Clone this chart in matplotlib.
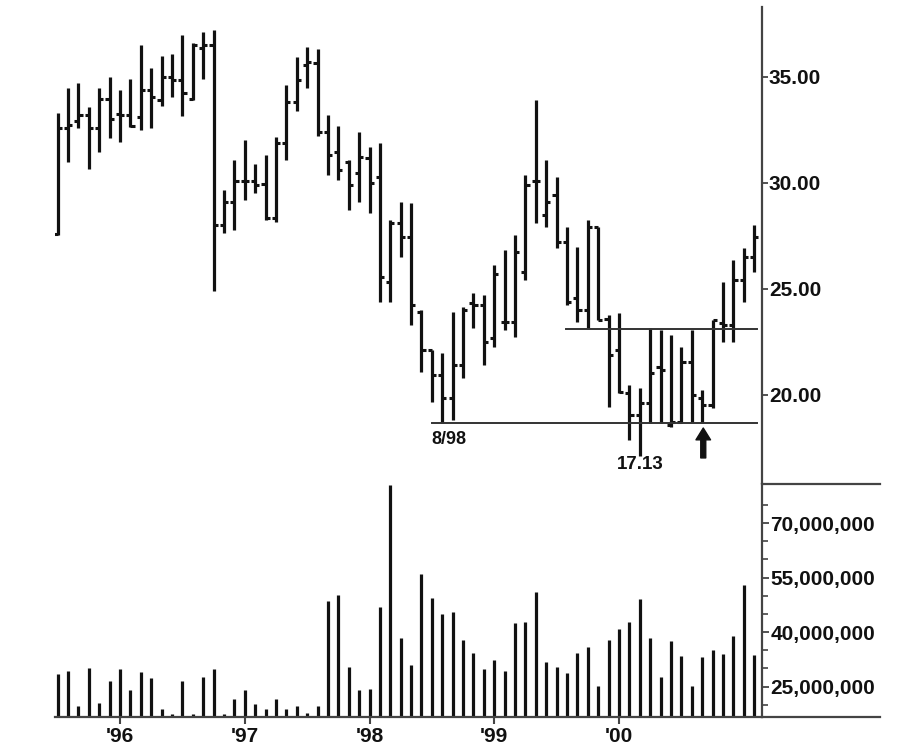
import numpy as np
import matplotlib
matplotlib.use("Agg")
import matplotlib.pyplot as plt
from matplotlib.lines import Line2D
from matplotlib.ticker import FixedLocator, FuncFormatter

plt.rcParams['font.family'] = ['Liberation Sans', 'DejaVu Sans']
plt.rcParams['font.weight'] = 'bold'

# monthly bars, Jul 1995 .. Feb 2001
opens = [27.6, 32.6, 32.9, 33.2, 32.6, 33.96, 33.25, 33.2, 33.1, 34.39,
         33.9, 34.98, 34.86, 33.95, 36.35, 36.5, 28.02, 29.12, 30.07, 30.07,
         29.95, 28.33, 31.87, 33.84, 35.57, 35.65, 32.42, 31.45, 31.0, 30.45,
         31.16, 30.3, 25.34, 28.12, 27.47, 23.93, 22.12, 20.94, 19.84, 21.42,
         24.32, 24.25, 22.67, 23.46, 23.46, 25.82, 30.1, 28.49, 29.43, 27.2,
         24.56, 24.0, 27.94, 23.57, 22.12, 20.08, 19.06, 19.61, 21.34, 18.58,
         18.74, 21.57, 19.84, 19.53, 23.38, 23.3, 25.42, 26.52]
highs = [33.3, 34.47, 34.73, 33.6, 34.47, 35.0, 34.39, 34.89, 36.5, 35.4,
         35.99, 36.1, 36.98, 36.6, 37.14, 37.2, 29.67, 31.08, 32.03, 30.9,
         31.32, 32.19, 34.62, 35.92, 36.43, 36.3, 33.2, 32.7, 31.08, 32.42,
         31.71, 31.87, 28.25, 29.12, 29.04, 24.0, 22.12, 21.97, 23.93, 24.17,
         24.8, 24.72, 26.13, 26.84, 27.55, 30.38, 33.92, 31.08, 30.3, 27.94,
         27.0, 28.25, 27.94, 23.77, 23.85, 20.47, 20.32, 23.15, 23.07, 22.83,
         22.28, 23.07, 20.24, 23.54, 25.34, 26.37, 26.92, 28.02]
lows = [27.55, 31.0, 32.58, 30.64, 31.48, 32.1, 31.95, 32.66, 32.5, 32.6,
        33.63, 34.07, 33.16, 33.9, 34.89, 24.92, 27.63, 27.78, 29.2, 29.54,
        28.25, 28.17, 31.08, 33.4, 34.5, 32.2, 30.38, 30.14, 28.73, 29.12,
        28.57, 24.4, 24.4, 26.52, 23.3, 21.1, 19.68, 18.67, 18.82, 20.79,
        23.15, 21.4, 22.28, 23.07, 22.75, 25.42, 28.09, 27.94, 26.92, 24.25,
        23.46, 23.15, 23.54, 19.45, 20.08, 17.88, 17.13, 18.67, 18.67, 18.5,
        18.67, 18.74, 18.67, 19.37, 22.51, 22.51, 24.4, 25.82]
closes = [32.6, 32.74, 33.2, 32.6, 33.96, 33.0, 33.2, 32.69, 34.39, 34.07,
          34.98, 34.86, 34.23, 36.5, 36.5, 28.0, 29.12, 30.07, 30.07, 29.9,
          28.33, 31.87, 33.84, 34.86, 35.7, 32.42, 31.32, 30.61, 29.9, 31.24,
          29.99, 25.58, 28.12, 27.47, 24.25, 22.12, 20.94, 19.84, 21.42, 24.0,
          24.25, 22.51, 25.7, 23.46, 26.76, 29.9, 30.1, 29.12, 27.2, 24.4,
          24.0, 27.94, 23.54, 21.89, 20.16, 19.06, 19.61, 21.02, 21.18, 18.74,
          21.57, 20.0, 19.53, 23.54, 23.3, 25.42, 26.52, 27.47]
# volume in millions of shares
volume_m = [28.5, 29.3, 19.5, 30.1, 20.4, 26.6, 29.8, 24.1, 29.0, 27.3,
            18.8, 17.5, 26.5, 17.5, 27.7, 29.8, 17.5, 21.5, 24.0, 20.3,
            18.8, 21.6, 18.8, 19.6, 17.8, 19.5, 48.6, 50.2, 30.5, 24.1,
            24.4, 47.0, 80.6, 38.3, 31.0, 56.0, 49.5, 45.0, 45.4, 37.9,
            34.3, 29.8, 32.3, 29.4, 42.5, 42.9, 51.0, 31.8, 30.5, 28.7,
            34.3, 35.9, 25.2, 37.9, 40.8, 42.8, 49.0, 38.3, 27.7, 37.5,
            33.5, 25.2, 33.0, 35.0, 33.9, 38.8, 53.0, 33.8]

year_pos = [6, 18, 30, 42, 54]
year_labels = ["'96", "'97", "'98", "'99", "'00"]
price_ticks = [20, 25, 30, 35]
vol_ticks = [25, 40, 55, 70]
support_level = 18.67      # 8/98 low
resistance_level = 23.1
low_label = "17.13"

INK = '#111111'
AXC = '#444444'
W, H = 914, 754

fig = plt.figure(figsize=(W / 100, H / 100), dpi=100)
ax_p = fig.add_axes([55 / W, 1 - 484 / H, (762 - 55) / W, (484 - 7) / H])
ax_v = fig.add_axes([55 / W, 1 - 717 / H, (762 - 55) / W, (717 - 484) / H], sharex=ax_p)

x = np.arange(len(opens))
tick = 0.4

# ---- price bars ----
ax_p.vlines(x, lows, highs, color=INK, lw=2.3)
ax_p.hlines(opens, x - tick, x, color=INK, lw=2.2)
ax_p.hlines(closes, x, x + tick, color=INK, lw=2.2)

ax_p.plot([36.0, 67.3], [support_level, support_level], color='#333333', lw=1.4)
ax_p.plot([48.9, 67.3], [resistance_level, resistance_level], color='#333333', lw=1.4)

ax_p.text(37.6, 17.92, "8/98", ha='center', va='center', fontsize=13, color=INK)
ax_p.text(56.0, 16.72, low_label, ha='center', va='center', fontsize=13.5, color=INK)
ax_p.annotate('', xy=(62.1, 18.44), xytext=(62.1, 17.03),
              arrowprops=dict(width=3.6, headwidth=10.5, headlength=8.5,
                              shrink=0, color=INK))

ax_p.set_xlim(-0.25, 67.75)
ax_p.set_ylim(15.8, 38.3)
for s in ['top', 'left', 'bottom']:
    ax_p.spines[s].set_visible(False)
ax_p.spines['right'].set_color(AXC)
ax_p.spines['right'].set_linewidth(1.6)
ax_p.yaxis.tick_right()
ax_p.set_yticks(price_ticks)
ax_p.set_yticklabels([f"{v:.2f}" for v in price_ticks])
ax_p.tick_params(axis='y', direction='out', length=4, width=1.3, color=AXC,
                 pad=1, labelsize=15, labelcolor=INK)
ax_p.tick_params(axis='x', bottom=False, labelbottom=False)

# ---- volume ----
ax_v.vlines(x, 0, volume_m, color=INK, lw=2.3)
ax_v.set_ylim(16.6, 80.8)
for s in ['top', 'left']:
    ax_v.spines[s].set_visible(False)
for s in ['right', 'bottom']:
    ax_v.spines[s].set_color(AXC)
    ax_v.spines[s].set_linewidth(1.6)
ax_v.yaxis.tick_right()
ax_v.yaxis.set_major_locator(FixedLocator(vol_ticks))
ax_v.yaxis.set_minor_locator(FixedLocator(range(20, 80, 5)))
ax_v.yaxis.set_major_formatter(FuncFormatter(lambda v, p: f"{v * 1e6:,.0f}"))
ax_v.tick_params(axis='y', which='major', direction='out', length=5, width=1.3,
                 color=AXC, pad=1, labelsize=15, labelcolor=INK)
ax_v.tick_params(axis='y', which='minor', direction='out', length=4, width=1.2, color=AXC)
ax_v.set_xticks(year_pos)
ax_v.set_xticklabels(year_labels)
ax_v.tick_params(axis='x', direction='out', length=5, width=1.5, color=AXC,
                 pad=2, labelsize=15, labelcolor=INK)

# separator and extended baseline under the label column
fig.add_artist(Line2D([762 / W, 880 / W], [1 - 484 / H, 1 - 484 / H], color=AXC, lw=1.6))
fig.add_artist(Line2D([762 / W, 880 / W], [1 - 717 / H, 1 - 717 / H], color=AXC, lw=1.6))

fig.savefig("out.png", dpi=100, facecolor='white')
